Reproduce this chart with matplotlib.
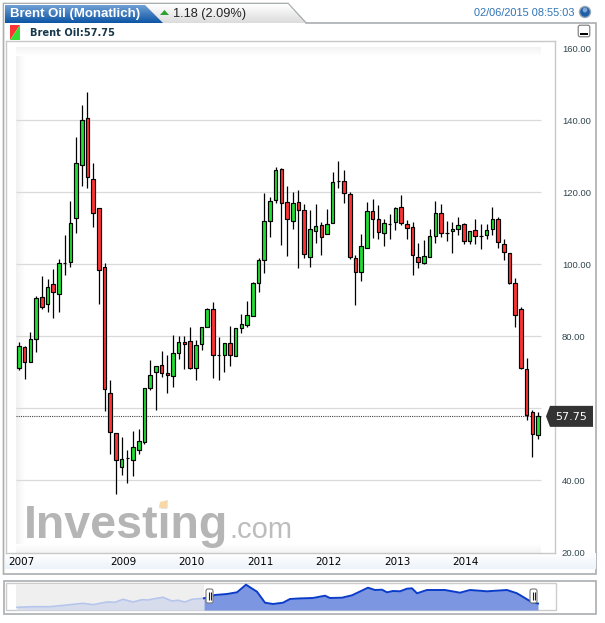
import numpy as np
import matplotlib
matplotlib.use('Agg')
import matplotlib.pyplot as plt
from matplotlib.patches import Polygon, Rectangle, Circle, FancyBboxPatch

# monthly candles
opens = [71.1, 77.0, 72.8, 79.2, 91.0, 88.9, 94.5, 91.7, 100.3, 100.6, 112.8, 127.5, 140.6, 123.6, 115.6, 99.3,
         64.2, 53.0, 43.6, 46.3, 45.6, 48.3, 50.6, 65.7, 70.0, 71.9, 69.7, 68.9, 75.3, 78.3, 78.6, 71.3,
         77.8, 82.5, 87.5, 74.9, 74.7, 78.1, 74.4, 82.2, 83.1, 85.7, 94.7, 101.1, 111.9, 117.8, 126.4, 117.2,
         111.9, 117.2, 115.0, 101.9, 109.2, 110.8, 108.3, 111.4, 123.1, 123.1, 119.4, 101.7, 97.8, 104.4, 114.7, 112.5,
         108.6, 111.1, 111.7, 115.8, 111.1, 110.3, 102.0, 100.3, 102.0, 107.8, 114.2, 108.8, 109.2, 109.7, 111.1, 106.4,
         109.4, 107.9, 108.0, 109.7, 112.5, 105.6, 103.1, 94.7, 87.5, 71.0, 58.9, 52.5]
highs = [78.4, 77.3, 81.1, 91.2, 96.6, 95.8, 98.6, 101.4, 108.1, 117.7, 135.3, 144.2, 147.8, 128.1, 115.6, 100.3,
         67.8, 53.0, 52.1, 48.4, 53.8, 54.2, 65.7, 73.5, 71.8, 76.0, 74.7, 80.3, 80.2, 80.1, 82.5, 79.0,
         82.7, 87.8, 89.5, 79.9, 78.1, 82.9, 82.2, 86.1, 89.8, 95.1, 101.7, 119.9, 118.7, 127.1, 126.7, 121.6,
         120.0, 120.6, 116.7, 115.0, 116.7, 111.7, 115.3, 125.7, 128.6, 126.1, 120.0, 102.5, 108.3, 117.2, 118.1, 116.4,
         112.5, 113.9, 115.8, 119.3, 112.2, 111.8, 106.0, 106.7, 109.7, 117.5, 116.7, 112.1, 111.8, 113.1, 111.4, 109.2,
         112.5, 111.1, 111.1, 115.8, 113.1, 106.9, 103.1, 96.3, 88.0, 73.9, 59.4, 58.9]
lows = [70.6, 68.2, 72.8, 75.7, 87.7, 86.7, 85.0, 86.8, 97.0, 99.1, 108.6, 121.6, 121.1, 110.4, 89.0, 59.1,
        47.4, 36.1, 41.5, 39.3, 41.3, 47.2, 50.0, 65.1, 59.5, 68.8, 64.1, 65.9, 73.8, 71.0, 71.0, 67.8,
        76.2, 82.5, 68.4, 67.9, 70.1, 71.8, 74.4, 80.8, 82.7, 85.7, 92.4, 97.7, 107.5, 116.9, 105.3, 102.4,
        109.7, 98.9, 101.7, 99.2, 105.8, 102.5, 108.3, 111.4, 121.1, 116.9, 101.4, 88.6, 95.4, 104.4, 107.2, 106.9,
        105.0, 106.9, 109.5, 111.0, 106.9, 97.0, 98.9, 100.0, 102.0, 106.0, 107.5, 106.4, 103.2, 108.0, 105.6, 105.6,
        105.6, 104.1, 106.9, 108.0, 104.4, 101.1, 94.4, 82.7, 70.8, 56.6, 46.4, 51.4]
closes = [77.3, 72.8, 79.2, 90.6, 88.2, 93.8, 92.2, 100.3, 100.3, 111.4, 128.1, 140.0, 124.2, 114.2, 98.3, 65.3,
          53.3, 45.6, 45.8, 46.3, 49.2, 50.8, 65.6, 69.2, 71.7, 69.7, 69.1, 75.3, 78.5, 77.8, 71.3, 77.5,
          82.7, 87.5, 74.7, 74.9, 78.1, 74.7, 82.2, 83.3, 85.8, 94.7, 101.1, 111.9, 117.5, 126.1, 116.9, 112.5,
          116.9, 115.0, 102.8, 109.7, 110.6, 107.5, 111.1, 122.8, 123.1, 119.7, 101.9, 97.8, 105.0, 114.7, 112.5, 108.9,
          111.4, 111.1, 115.6, 111.4, 110.0, 102.5, 100.6, 102.2, 107.8, 114.2, 108.6, 108.8, 109.7, 110.8, 106.4, 109.2,
          107.8, 107.9, 109.4, 112.5, 106.1, 103.3, 94.7, 85.8, 71.1, 58.1, 52.8, 57.75]
last_price = 57.75

price_ticks = [20, 40, 60, 80, 100, 120, 140, 160]
grid_ticks = [40, 60, 80, 100, 120, 140]
year_ticks = [-1.9, 16, 28, 40, 52, 64, 76]
year_labels = ['2007', '2009', '2010', '2011', '2012', '2013', '2014']

# navigator line, x and height as read from the strip
nav_x_old = [17, 33, 50, 67, 83, 93, 107, 115, 123, 133, 142, 148, 157, 163, 172, 178, 185, 192, 204]
nav_h_old = [2.7, 3.3, 3.3, 5, 6.7, 5.3, 8, 7.7, 10.7, 8, 10.3, 10, 11.7, 12.7, 9, 9.7, 8, 10.7, 11.7]
nav_x_new = [204, 215, 227, 237, 246, 257, 265, 273, 283, 290, 300, 313, 325, 330, 342, 352, 368, 375, 382,
             387, 393, 400, 407, 412, 417, 427, 445, 460, 470, 487, 507, 517, 532, 538]
nav_h_new = [11.7, 15, 16, 17.7, 25.3, 18.3, 7.3, 6, 7.3, 11, 11.6, 12, 14.3, 12, 12.3, 14.7, 22.3, 20, 20.3,
             17.7, 19, 18.7, 21.3, 21.7, 16.7, 20, 20, 17.3, 20, 18.7, 20, 16.7, 7.7, 6.5]

FRAME = '#a9aeb0'
W, H = 605, 623


def px_axes(zorder):
    # axes over the whole figure that works in screen pixels
    a = fig.add_axes([0, 0, 1, 1], zorder=zorder)
    a.set_axis_off()
    return a


def gradient(a, x0, x1, y0, y1, c0, c1, vertical=True):
    c0 = np.array(matplotlib.colors.to_rgb(c0))
    c1 = np.array(matplotlib.colors.to_rgb(c1))
    t = np.linspace(0, 1, 32)
    img = c0 + (c1 - c0) * t[:, None]
    img = img[:, None, :] if vertical else img[None, :, :]
    return a.imshow(img, extent=[x0, x1, y1, y0], aspect='auto', interpolation='bilinear', zorder=1)


fig = plt.figure(figsize=(W / 100, H / 100), dpi=100, facecolor='white')
back = px_axes(0)

# frames
back.add_patch(Polygon([(3.5, 574), (3.5, 3.5), (288, 3.5), (306, 23), (596, 23), (596, 574)],
                       closed=True, fc='white', ec=FRAME, lw=1.2, zorder=0))
tab = gradient(back, 4, 306, 4, 23, '#ffffff', '#dcdcdc')
tab.set_clip_path(Polygon([(4, 23), (4, 4), (288, 4), (305, 23)], closed=True, transform=back.transData))
blue = gradient(back, 5, 163, 5, 23, '#6f9fd3', '#0d56a6')
blue.set_clip_path(Polygon([(5, 23), (5, 5), (145, 5), (163, 23)], closed=True, transform=back.transData))
gradient(back, 4.5, 595.5, 553, 569, '#ffffff', '#edf3fa')
gradient(back, 16, 25, 47, 553, '#f1f1f1', '#ffffff', vertical=False)
gradient(back, 16, 541, 47, 56, '#f3f3f3', '#ffffff')
gradient(back, 16, 541, 544, 553, '#ffffff', '#f3f3f3')

# header
back.text(10, 13.5, 'Brent Oil (Monatlich)', color='white', family='Liberation Sans', weight='bold',
          fontsize=9.5, va='center', zorder=3)
back.add_patch(Polygon([(160, 15), (169, 15), (164.5, 10)], closed=True, fc='#2f9e35', ec='none', zorder=3))
back.text(173, 13.5, '1.18 (2.09%)', color='#222222', family='Liberation Sans', fontsize=9.2, va='center', zorder=3)
back.text(574, 13, '02/06/2015 08:55:03', color='#2f74b5', family='Liberation Sans', fontsize=7.9,
          ha='right', va='center', zorder=3)
back.add_patch(Circle((585, 12), 6.2, fc='#9aa7b5', ec='none', zorder=3))
back.add_patch(Circle((585, 12), 4.8, fc='#1f5ea8', ec='none', zorder=3))
back.add_patch(Circle((585, 10), 2.4, fc='#7fa8d8', ec='none', zorder=3))
back.add_patch(FancyBboxPatch((579, 26), 10, 10, boxstyle='round,pad=0.8,rounding_size=2', fc='white', ec='#777777',
                              lw=0.8, zorder=3))
back.add_patch(Rectangle((580, 33), 8, 1.6, fc='black', ec='none', zorder=4))

# red/green legend mark
back.add_patch(Polygon([(10, 25), (20, 25), (10, 40)], closed=True, fc='#ff3333', ec='none', zorder=3))
back.add_patch(Polygon([(20, 25), (20, 40), (10, 40)], closed=True, fc='#33dd33', ec='none', zorder=3))
back.text(30, 32.5, 'Brent Oil:57.75', color='#17384a', family='DejaVu Sans', weight='bold', fontsize=7.1,
          va='center', zorder=3)

# watermark
back.text(24, 537.5, 'Investing', color='#b5b5b5', family='Liberation Sans', weight='bold', fontsize=33.5,
          va='baseline', zorder=2)
back.text(229, 537.5, '.com', color='#bdbdbd', family='Liberation Sans', fontsize=21, va='baseline', zorder=2)
back.add_patch(Polygon([(160, 502), (168, 500), (167, 508), (159, 508)], closed=True, fc='#f6d9a6', ec='none', zorder=3))

# navigator box
back.add_patch(Rectangle((3.5, 580.5), 592.5, 33.5, fc='white', ec=FRAME, lw=1.2, zorder=0))
back.add_patch(Rectangle((6, 583), 549.5, 27, fc='white', ec='#cccccc', lw=1, zorder=0.5))
back.add_patch(Rectangle((16, 584), 188, 26, fc='#efefef', ec='none', zorder=0.6))

back.set_xlim(0, W)
back.set_ylim(H, 0)

# main chart
ax = fig.add_axes([6 / W, (H - 553) / H, 549 / W, 512 / H], zorder=2)
ax.patch.set_alpha(0)
idx = np.arange(len(closes))
opens_a, closes_a = np.array(opens), np.array(closes)
body_colors = ['black' if c == o else ('#22dd33' if c > o else '#ff3333') for o, c in zip(opens, closes)]

ax.hlines(grid_ticks, -0.53, 91.5, color='#dadada', lw=0.9, zorder=1)
ax.hlines(last_price, -0.53, 91.5, color='#444444', lw=0.8, linestyles=(0, (1, 1)), zorder=2)
ax.vlines(idx, lows, highs, color='black', lw=0.9, zorder=3)
ax.bar(idx, closes_a - opens_a, bottom=opens_a, width=0.62, color=body_colors, edgecolor='black', linewidth=0.85,
       zorder=4)

ax.set_xlim(-2.28, 93.98)
ax.set_ylim(19.8, 162.0)
ax.yaxis.tick_right()
ax.set_yticks(price_ticks, ['%.2f' % p for p in price_ticks])
ax.set_xticks(year_ticks, year_labels)
ax.tick_params(axis='y', length=0, pad=5, labelsize=6.8, labelcolor='#33474f')
ax.tick_params(axis='x', length=0, pad=3, labelsize=7.5, labelcolor='black')
for lab in ax.get_yticklabels():
    lab.set_family('Liberation Sans')
for lab in ax.get_xticklabels():
    lab.set_ha('left')
for sp in ax.spines.values():
    sp.set_color('#c8c8c8')
    sp.set_linewidth(1)

# navigator chart
nav = fig.add_axes([16 / W, (H - 610) / H, 539 / W, 27 / H], zorder=2)
nav.patch.set_alpha(0)
nav.set_axis_off()
nav.fill_between(nav_x_old, 0, nav_h_old, color='#d6dcec', lw=0)
nav.plot(nav_x_old, nav_h_old, color='#b5c5ec', lw=1.2)
nav.fill_between(nav_x_new, 0, nav_h_new, color='#7c96e2', lw=0)
nav.plot(nav_x_new, nav_h_new, color='#0b3cc9', lw=1.4, solid_joinstyle='round')
nav.set_xlim(16, 555)
nav.set_ylim(0, 27)

# things that sit on top: price tag and navigator handles
front = px_axes(4)
tag_y = H - ax.transData.transform((0, last_price))[1]
front.add_patch(Polygon([(546, tag_y), (550, tag_y - 10.5), (593, tag_y - 10.5), (593, tag_y + 10.5), (550, tag_y + 10.5)],
                        closed=True, fc='#333333', ec='none'))
front.text(571, tag_y + 0.3, '%.2f' % last_price, color='white', family='DejaVu Sans', fontsize=8, ha='center', va='center')
for hx in [209.5, 533.5]:
    front.add_patch(FancyBboxPatch((hx - 3, 589.5), 6, 13, boxstyle='round,pad=0.5,rounding_size=2', fc='white',
                                   ec='#777777', lw=0.8))
    front.vlines([hx - 1, hx + 1], 592, 600, color='#222222', lw=0.8)
front.set_xlim(0, W)
front.set_ylim(H, 0)

fig.savefig('out.png', dpi=100)
plt.close()
